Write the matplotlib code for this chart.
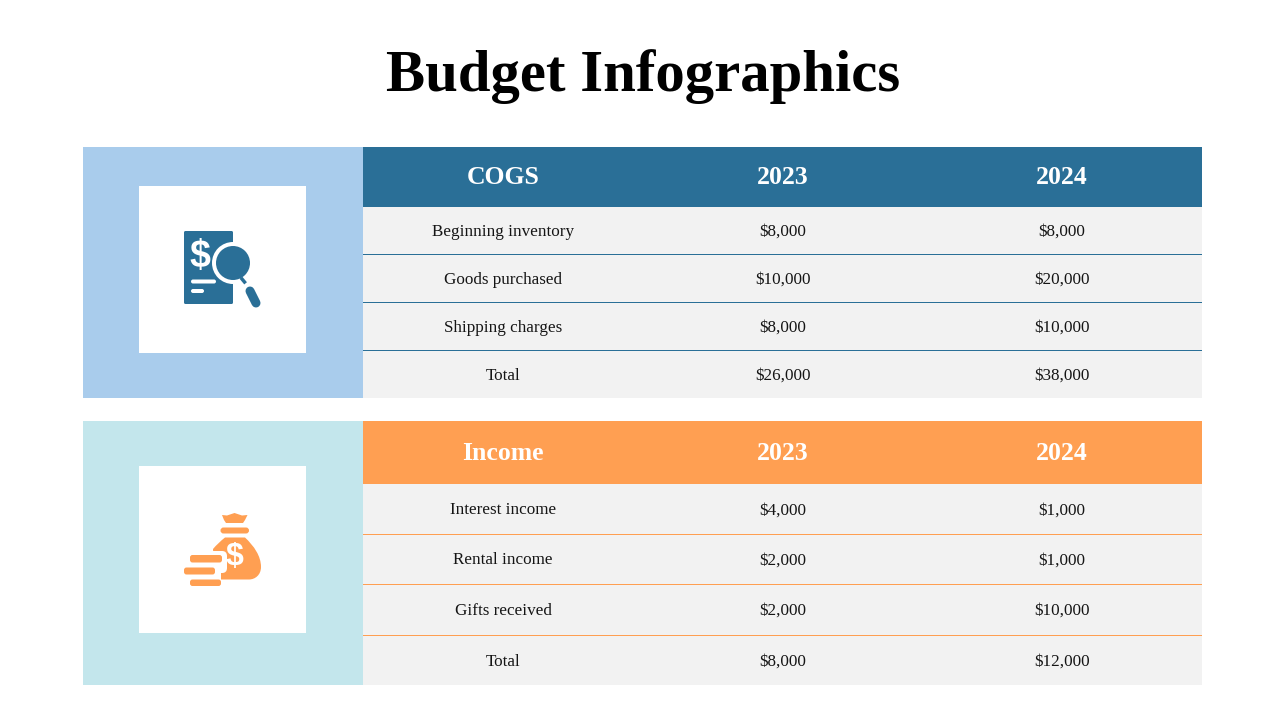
import matplotlib
matplotlib.use("Agg")
import matplotlib.pyplot as plt
from matplotlib.patches import Rectangle, FancyBboxPatch, Circle, Polygon, PathPatch
from matplotlib.path import Path

plt.rcParams['font.family'] = ['Liberation Serif', 'DejaVu Serif']

title = "Budget Infographics"
years = ["2023", "2024"]

cogs_rows = ["Beginning inventory", "Goods purchased", "Shipping charges", "Total"]
cogs_2023 = ["$8,000", "$10,000", "$8,000", "$26,000"]
cogs_2024 = ["$8,000", "$20,000", "$10,000", "$38,000"]

income_rows = ["Interest income", "Rental income", "Gifts received", "Total"]
income_2023 = ["$4,000", "$2,000", "$2,000", "$8,000"]
income_2024 = ["$1,000", "$1,000", "$10,000", "$12,000"]

BLUE = "#2A6F97"
ORANGE = "#FF9F52"
GREY = "#F2F2F2"
COL_X = [503, 782.5, 1062]

fig = plt.figure(figsize=(12.8, 7.2), dpi=100)
ax = fig.add_axes([0, 0, 1, 1])
ax.set_xlim(0, 1280)
ax.set_ylim(720, 0)
ax.axis("off")


def box(x0, y0, x1, y1, color, z=1):
    ax.add_patch(Rectangle((x0, y0), x1 - x0, y1 - y0, fc=color, ec="none", zorder=z))


def pill(x0, y0, x1, y1, color, z=3, r=2.5):
    ax.add_patch(FancyBboxPatch((x0 + r, y0 + r), x1 - x0 - 2 * r, y1 - y0 - 2 * r,
                                boxstyle=f"round,pad={r},rounding_size={r}",
                                fc=color, ec="none", zorder=z))


def table(name, rows, col1, col2, color, panel, top, head_bottom, lines, bottom, white_top):
    box(83, top, 363, bottom, panel)
    box(139, white_top, 306, white_top + 167, "white", 2)
    box(363, top, 1202, head_bottom, color)
    box(363, head_bottom, 1202, bottom, GREY)
    head_y = (top + head_bottom) / 2 + 7
    for x, label in zip(COL_X, [name] + years):
        ax.text(x, head_y, label, color="white", fontsize=18.5, fontweight="bold",
                ha="center", va="baseline", zorder=4)
    edges = [head_bottom] + lines + [bottom]
    for y in lines:
        box(363, y, 1202, y + 1, color, 3)
    for i in range(len(rows)):
        y = (edges[i] + edges[i + 1]) / 2 + 5.5
        ax.text(COL_X[0], y, rows[i], color="#151515", fontsize=12.3, ha="center", va="baseline", zorder=4)
        ax.text(COL_X[1], y, col1[i], color="#151515", fontsize=12.3, ha="center", va="baseline", zorder=4)
        ax.text(COL_X[2], y, col2[i], color="#151515", fontsize=12.3, ha="center", va="baseline", zorder=4)


ax.text(643, 91, title, color="black", fontsize=42.3, fontweight="bold", ha="center", va="baseline")

table("COGS", cogs_rows, cogs_2023, cogs_2024, BLUE, "#A9CCEC", 147, 207, [254, 302, 350], 398, 186)
table("Income", income_rows, income_2023, income_2024, ORANGE, "#C3E6EC", 421, 484, [534, 584, 635], 685, 466)

# document + magnifier icon
pill(184, 231, 233, 304, BLUE, r=1.5)
ax.text(200, 257, "$", color="white", fontsize=27, fontweight="bold", ha="center", va="center", zorder=4,
        family="Liberation Sans")
pill(191, 279.5, 216, 283.5, "white", z=4, r=2)
pill(191, 289, 204, 293, "white", z=4, r=2)
ax.add_patch(Circle((233, 263), 21, fc="white", ec="none", zorder=4))
ax.add_patch(Circle((233, 263), 17, fc=BLUE, ec="none", zorder=5))
ax.plot([242, 244.5], [279, 282], color=BLUE, lw=2.5, zorder=5)
ax.plot([250, 256], [291, 303], color=BLUE, lw=6.5, solid_capstyle="round", zorder=5)

# money bag + coins icon
ax.add_patch(Polygon([(222, 515), (227, 515.5), (234.5, 513), (242, 515.5), (247.5, 515),
                      (245, 520), (243, 523), (226, 523), (224, 520)], fc=ORANGE, ec="none", zorder=3))
pill(220.5, 527.5, 249, 533.5, ORANGE, r=3)
bag = Path([(225, 537.5), (245, 537.5), (254, 546), (261, 556), (261, 567), (261, 575), (255, 579.5), (249, 579.5),
            (215, 579.5), (213, 549), (218, 543), (225, 537.5)],
           [Path.MOVETO, Path.LINETO, Path.CURVE4, Path.CURVE4, Path.CURVE4, Path.CURVE4, Path.CURVE4, Path.CURVE4,
            Path.LINETO, Path.LINETO, Path.CURVE3, Path.CURVE3])
ax.add_patch(PathPatch(bag, fc=ORANGE, ec="none", zorder=3))
ax.text(235, 557, "$", color="white", fontsize=23, fontweight="bold", ha="center", va="center", zorder=4,
        family="Liberation Sans")
pill(180, 551, 227, 573, "white", z=4, r=5)
pill(180, 565, 221, 590, "white", z=4, r=3)
pill(190, 555, 222, 562.5, ORANGE, z=5)
pill(184, 567.5, 215, 574.5, ORANGE, z=5)
pill(190, 579.5, 221, 586, ORANGE, z=5)

fig.savefig("out.png", dpi=100)
